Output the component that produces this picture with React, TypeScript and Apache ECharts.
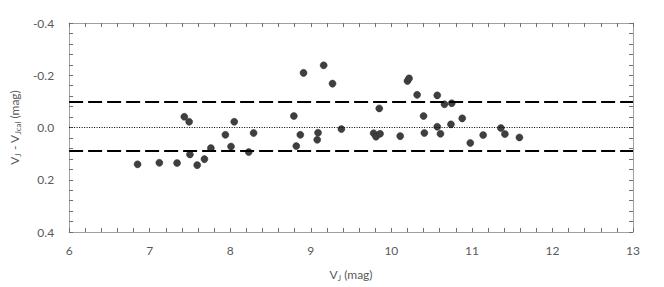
import React, { useEffect, useRef } from "react";
import * as echarts from "echarts";

const vJ = [6.85, 7.12, 7.34, 7.43, 7.49, 7.50, 7.59, 7.68, 7.76, 7.94, 8.01, 8.05, 8.23, 8.29,
  8.79, 8.82, 8.87, 8.91, 9.08, 9.09, 9.16, 9.27, 9.38, 9.78, 9.81, 9.85, 9.86, 10.11,
  10.20, 10.22, 10.32, 10.40, 10.41, 10.57, 10.57, 10.61, 10.66, 10.74, 10.75, 10.88,
  10.98, 11.14, 11.36, 11.41, 11.59];
const dV = [0.141, 0.135, 0.136, -0.041, -0.022, 0.103, 0.144, 0.121, 0.079, 0.028, 0.073, -0.022, 0.094, 0.021,
  -0.044, 0.071, 0.028, -0.209, 0.047, 0.02, -0.238, -0.168, 0.006, 0.022, 0.035, -0.073, 0.024, 0.033,
  -0.178, -0.188, -0.125, -0.044, 0.021, -0.123, -0.003, 0.024, -0.089, -0.012, -0.093, -0.035,
  0.059, 0.029, 0.002, 0.025, 0.038];
const limitLines = [-0.098, 0.091];
const zeroLine = [0];
const xTicks = [6, 13, 1];
const yTicks = [-0.4, 0.4, 0.2];

const FONT = "Lato";
const GRAY = "#595959";
const AX = "#a0a0a0";

export default function App() {
  const ref = useRef<HTMLDivElement>(null);
  useEffect(() => {
    const chart = echarts.init(ref.current!, null, { renderer: "svg" });
    const baseX = {
      type: "value", min: xTicks[0], max: xTicks[1], interval: xTicks[2],
      splitLine: { show: false },
      axisLine: { show: true, onZero: false, lineStyle: { color: AX, width: 1 } },
      axisTick: { show: true, inside: true, length: 4, lineStyle: { color: "#707070" } },
      minorTick: { show: true, splitNumber: 5, length: 4, lineStyle: { color: "#707070" } },
    };
    const baseY = {
      type: "value", min: yTicks[0], max: yTicks[1], interval: yTicks[2], inverse: true,
      splitLine: { show: false },
      axisLine: { show: true, onZero: false, lineStyle: { color: AX, width: 1 } },
      axisTick: { show: true, inside: true, length: 4, lineStyle: { color: "#707070" } },
      minorTick: { show: true, splitNumber: 5, length: 4, lineStyle: { color: "#707070" } },
    };
    chart.setOption({
      animation: false,
      grid: { left: 69, right: 31, top: 23, bottom: 55 },
      xAxis: [
        {
          ...baseX, position: "bottom",
          axisLabel: { color: GRAY, fontFamily: FONT, fontSize: 12, margin: 12 },
          name: "{m|V}{s|J}{m| (mag)}",
          nameLocation: "middle", nameGap: 32,
          nameTextStyle: {
            rich: {
              m: { fontFamily: FONT, fontSize: 12, color: GRAY, lineHeight: 16, verticalAlign: "bottom" },
              s: { fontFamily: FONT, fontSize: 8, color: GRAY, lineHeight: 16, verticalAlign: "bottom", padding: [0, 0, -2, 0] },
            },
          },
        },
        { ...baseX, position: "top", axisLabel: { show: false } },
      ],
      yAxis: [
        {
          ...baseY, position: "left",
          axisLabel: { color: GRAY, fontFamily: FONT, fontSize: 12, margin: 15, formatter: (v: number) => v.toFixed(1) },
          name: "{m|V}{s|J}{m| - V}{s|Jcal}{m| (mag)}",
          nameLocation: "middle", nameGap: 46, nameRotate: 90,
          nameTextStyle: {
            rich: {
              m: { fontFamily: FONT, fontSize: 12, color: GRAY, lineHeight: 16, verticalAlign: "bottom" },
              s: { fontFamily: FONT, fontSize: 8, color: GRAY, lineHeight: 16, verticalAlign: "bottom", padding: [0, 0, -2, 0] },
            },
          },
        },
        { ...baseY, position: "right", axisLabel: { show: false } },
      ],
      series: [
        {
          type: "line", data: [], xAxisIndex: 0, yAxisIndex: 0,
          markLine: {
            silent: true, symbol: "none", label: { show: false },
            lineStyle: { color: "#000", width: 2, type: [14, 5] },
            data: limitLines.map((v) => ({ yAxis: v })),
          },
        },
        {
          type: "line", data: [], xAxisIndex: 0, yAxisIndex: 0,
          markLine: {
            silent: true, symbol: "none", label: { show: false },
            lineStyle: { color: "#000", width: 1, type: [1, 1.5] },
            data: zeroLine.map((v) => ({ yAxis: v })),
          },
        },
        {
          type: "scatter", xAxisIndex: 0, yAxisIndex: 0,
          symbolSize: 7,
          itemStyle: { color: "#3f3f3f", borderColor: "#2a2a2a", borderWidth: 0.5, opacity: 1 },
          data: vJ.map((x, i) => [x, dV[i]]),
        },
      ],
    });
    return () => chart.dispose();
  }, []);
  return <div ref={ref} style={{ width: 664, height: 287, position: "absolute", left: 0, top: 0, background: "#fff" }} />;
}
